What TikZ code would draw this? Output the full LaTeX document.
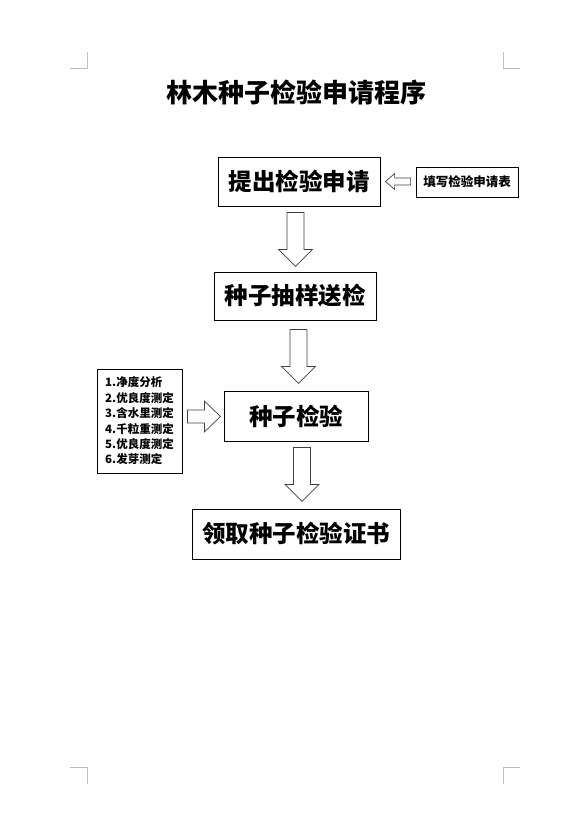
\documentclass[tikz,border=0pt]{standalone}
\usepackage{fontspec}
\newfontfamily\cjk{Noto Sans CJK SC}
\usetikzlibrary{calc}
\tikzset{
  box/.style={draw=black, line width=0.8pt, fill=white, inner sep=0pt},
  bigtext/.style={font={\cjk\bfseries\fontsize{23.5}{26}\selectfont}},
  blockarrow/.style={draw=black!75, line width=0.7pt, fill=white, line join=miter},
  cropmark/.style={draw=black!25, line width=0.7pt},
  pics/downblock/.style={code={\draw[blockarrow] (-8.5,0) -- (8.5,0) -- (8.5,37) -- (17,37) -- (0,54) -- (-17,37) -- (-8.5,37) -- cycle;}},
  pics/leftblock/.style={code={\draw[blockarrow] (0,-3.5) -- (-16,-3.5) -- (-16,-8) -- (-25,0) -- (-16,8) -- (-16,3.5) -- (0,3.5) -- cycle;}},
  pics/rightblock/.style={code={\draw[blockarrow] (0,-6.5) -- (17,-6.5) -- (17,-15.5) -- (33,0) -- (17,15.5) -- (17,6.5) -- (0,6.5) -- cycle;}}
}
\begin{document}
\begin{tikzpicture}[x=1pt,y=-1pt]
\useasboundingbox[fill=white] (0,0) rectangle (583,831);
% crop marks
\draw[cropmark] (70,68) -- (87,68) -- (87,52);
\draw[cropmark] (503,52) -- (503,68) -- (520,68);
\draw[cropmark] (70,767) -- (87,767) -- (87,784);
\draw[cropmark] (520,767) -- (503,767) -- (503,784);
% title
\node[font={\cjk\bfseries\fontsize{26}{28}\selectfont}] (title) at (296,92.5) {林木种子检验申请程序};
% boxes
\node[box, bigtext, minimum width=162pt, minimum height=49pt] (b1) at (299,181.5) {提出检验申请};
\node[box, font={\cjk\bfseries\fontsize{12.5}{14}\selectfont}, minimum width=102pt, minimum height=30pt] (fill) at (467,182) {填写检验申请表};
\node[box, bigtext, minimum width=162pt, minimum height=48pt] (b2) at (295,296) {种子抽样送检};
\node[box, bigtext, minimum width=144pt, minimum height=50pt] (b3) at (296,416) {种子检验};
\node[box, bigtext, minimum width=208pt, minimum height=50pt] (b4) at (296,534) {领取种子检验证书};
\node[box, align=left, font={\cjk\bfseries\fontsize{11.5}{15.4}\selectfont}, minimum width=85pt, minimum height=104pt] (list) at (139.5,421)
  {1.净度分析\\2.优良度测定\\3.含水里测定\\4.千粒重测定\\5.优良度测定\\6.发芽测定};
% block arrows
\path (b1.south) ++(-3.5,6) pic {downblock};
\path (b2.south) ++(3.5,9) pic {downblock};
\path (b3.south) ++(6,6) pic {downblock};
\path (fill.west) ++(-5,-0.5) pic {leftblock};
\path (list.east) ++(5,-4.5) pic {rightblock};
\end{tikzpicture}
\end{document}
